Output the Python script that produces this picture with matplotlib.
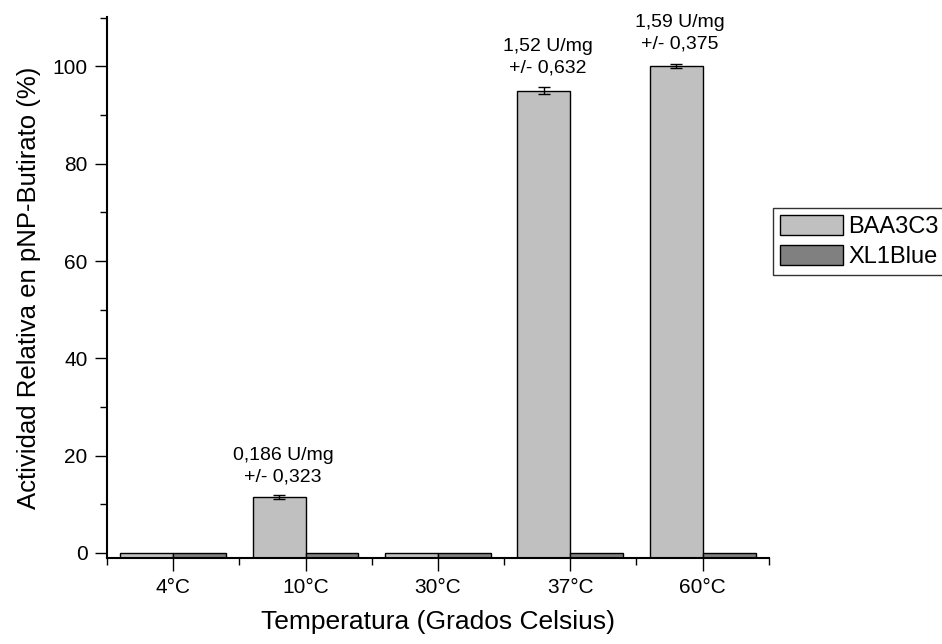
import matplotlib
matplotlib.use("Agg")
import matplotlib.pyplot as plt
import numpy as np

plt.rcParams['font.family'] = ['Liberation Sans', 'DejaVu Sans']

categories = ["4°C", "10°C", "30°C", "37°C", "60°C"]
baa3c3 = [0.0, 11.5, 0.0, 95.0, 100.0]
baa3c3_err = [0.0, 0.35, 0.0, 0.7, 0.4]
xl1blue = [0.0, 0.0, 0.0, 0.0, 0.0]
annot_idx = [1, 3, 4]
annot_text = ["0,186 U/mg\n+/- 0,323", "1,52 U/mg\n+/- 0,632", "1,59 U/mg\n+/- 0,375"]
annot_y = [17.9, 101.9, 106.8]

YMIN, YMAX = -1.1, 110.2
W = 0.4

fig = plt.figure(figsize=(9.42, 6.44), dpi=100)
ax = fig.add_axes([0.1136, 0.133, 0.7025, 0.841])

x = np.arange(len(categories))
b1 = np.array(baa3c3) - YMIN
b2 = np.array(xl1blue) - YMIN
ax.bar(x - W / 2, b1, W, bottom=YMIN, color="#c0c0c0", edgecolor="black",
       linewidth=1.0, label="BAA3C3", zorder=2)
ax.bar(x + W / 2, b2, W, bottom=YMIN, color="#808080", edgecolor="black",
       linewidth=1.0, label="XL1Blue", zorder=2)

# error bars only where there is a measurable value
idx = [i for i, e in enumerate(baa3c3_err) if e > 0]
ax.errorbar(x[idx] - W / 2, [baa3c3[i] for i in idx], yerr=[baa3c3_err[i] for i in idx],
            fmt="none", ecolor="black", elinewidth=1.0, capsize=4.5, capthick=1.0, zorder=3)

for i, t, yy in zip(annot_idx, annot_text, annot_y):
    ax.text(i - W / 2 + 0.03, yy, t, ha="center", va="center", fontsize=14,
            linespacing=1.35)

ax.set_xlim(-0.5, 4.5)
ax.set_ylim(YMIN, YMAX)
ax.set_xticks(x)
ax.set_xticklabels(categories)
ax.set_xticks(np.arange(-0.5, 5.0, 1.0), minor=True)
ax.set_yticks(np.arange(0, 101, 20))
ax.set_yticks(np.arange(10, 111, 20), minor=True)

ax.tick_params(axis="both", which="major", direction="out", length=9, width=1.0,
               labelsize=15, pad=5)
ax.tick_params(axis="both", which="minor", direction="out", length=5, width=1.0)

for s in ("top", "right"):
    ax.spines[s].set_visible(False)
for s in ("left", "bottom"):
    ax.spines[s].set_linewidth(1.5)

ax.set_xlabel("Temperatura (Grados Celsius)", fontsize=19)
ax.set_ylabel("Actividad Relativa en pNP-Butirato (%)", fontsize=18.5)
ax.xaxis.set_label_coords(0.5, -0.095)
ax.yaxis.set_label_coords(-0.1, 0.5)

leg = ax.legend(loc="upper left", bbox_to_anchor=(0.8205, 0.677),
                bbox_transform=fig.transFigure, fontsize=17, frameon=True,
                fancybox=False, edgecolor="black", handlelength=2.65,
                handleheight=0.9, handletextpad=0.25, labelspacing=0.3,
                borderpad=0.3, borderaxespad=0)
leg.get_frame().set_linewidth(1.0)

fig.savefig("out.png", dpi=100)
